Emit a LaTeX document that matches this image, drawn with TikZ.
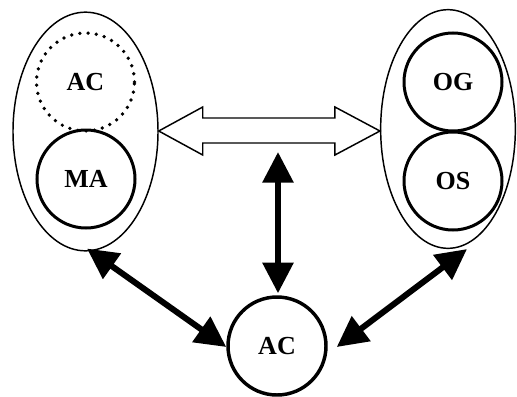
\documentclass[tikz,border=0pt]{standalone}
\usepackage{fontspec}
\setmainfont{Liberation Serif}
\usetikzlibrary{shapes.geometric,arrows.meta,calc}
\begin{document}
\begin{tikzpicture}[x=0.75pt,y=-0.75pt,
  group/.style={draw,ellipse,line width=1.1pt,inner sep=0pt,minimum width=108.75pt,minimum height=179pt},
  ent/.style={draw,circle,line width=2.25pt,inner sep=0pt,minimum size=73.5pt,font=\fontsize{19.5}{21}\selectfont\bfseries},
  dotent/.style={ent,draw=none,postaction={draw,line width=2.8pt,line cap=round,dash pattern=on 0pt off 6.2pt}},
  bigarrow/.style={line width=4.5pt,{Triangle[length=23pt,width=22.5pt]}-{Triangle[length=23pt,width=22.5pt]}},
  hollow/.style={draw,line width=1.1pt,line join=miter,fill=white}]
\useasboundingbox (0,0) rectangle (517,396);
\node[group] (L) at (85.5,131.5) {};
\node[group,minimum width=101pt] (R) at (448,129) {};
\node[dotent] (ac1) at (85.5,82) {AC};
\node[ent] (ma) at (86,179) {MA};
\node[ent] (og) at (453,82) {OG};
\node[ent] (os) at (453,181) {OS};
\node[ent,line width=2.6pt] (ac) at (277,346) {AC};
% hollow double arrow between the groups
\coordinate (ha) at ($(L.east)+(0,-0.5)$);
\coordinate (hb) at ($(R.west)+(0,2)$);
\draw[hollow] (ha) -- ($(ha)+(44,-24)$) -- ($(ha)+(44,-13)$) -- ($(hb)+(-45,-13)$) -- ($(hb)+(-45,-24)$)
  -- (hb) -- ($(hb)+(-45,24)$) -- ($(hb)+(-45,12)$) -- ($(ha)+(44,12)$) -- ($(ha)+(44,24)$) -- cycle;
\coordinate (mid) at (278,152);
\draw[bigarrow] (mid) -- ($(ac.north)+(1,-2)$);
\draw[bigarrow] ($(L.south)+(1.5,-3)$) -- ($(ac.west)+(0,1)$);
\draw[bigarrow] ($(R.south)+(19,0)$) -- ($(ac.east)+(9,1)$);
\end{tikzpicture}
\end{document}
